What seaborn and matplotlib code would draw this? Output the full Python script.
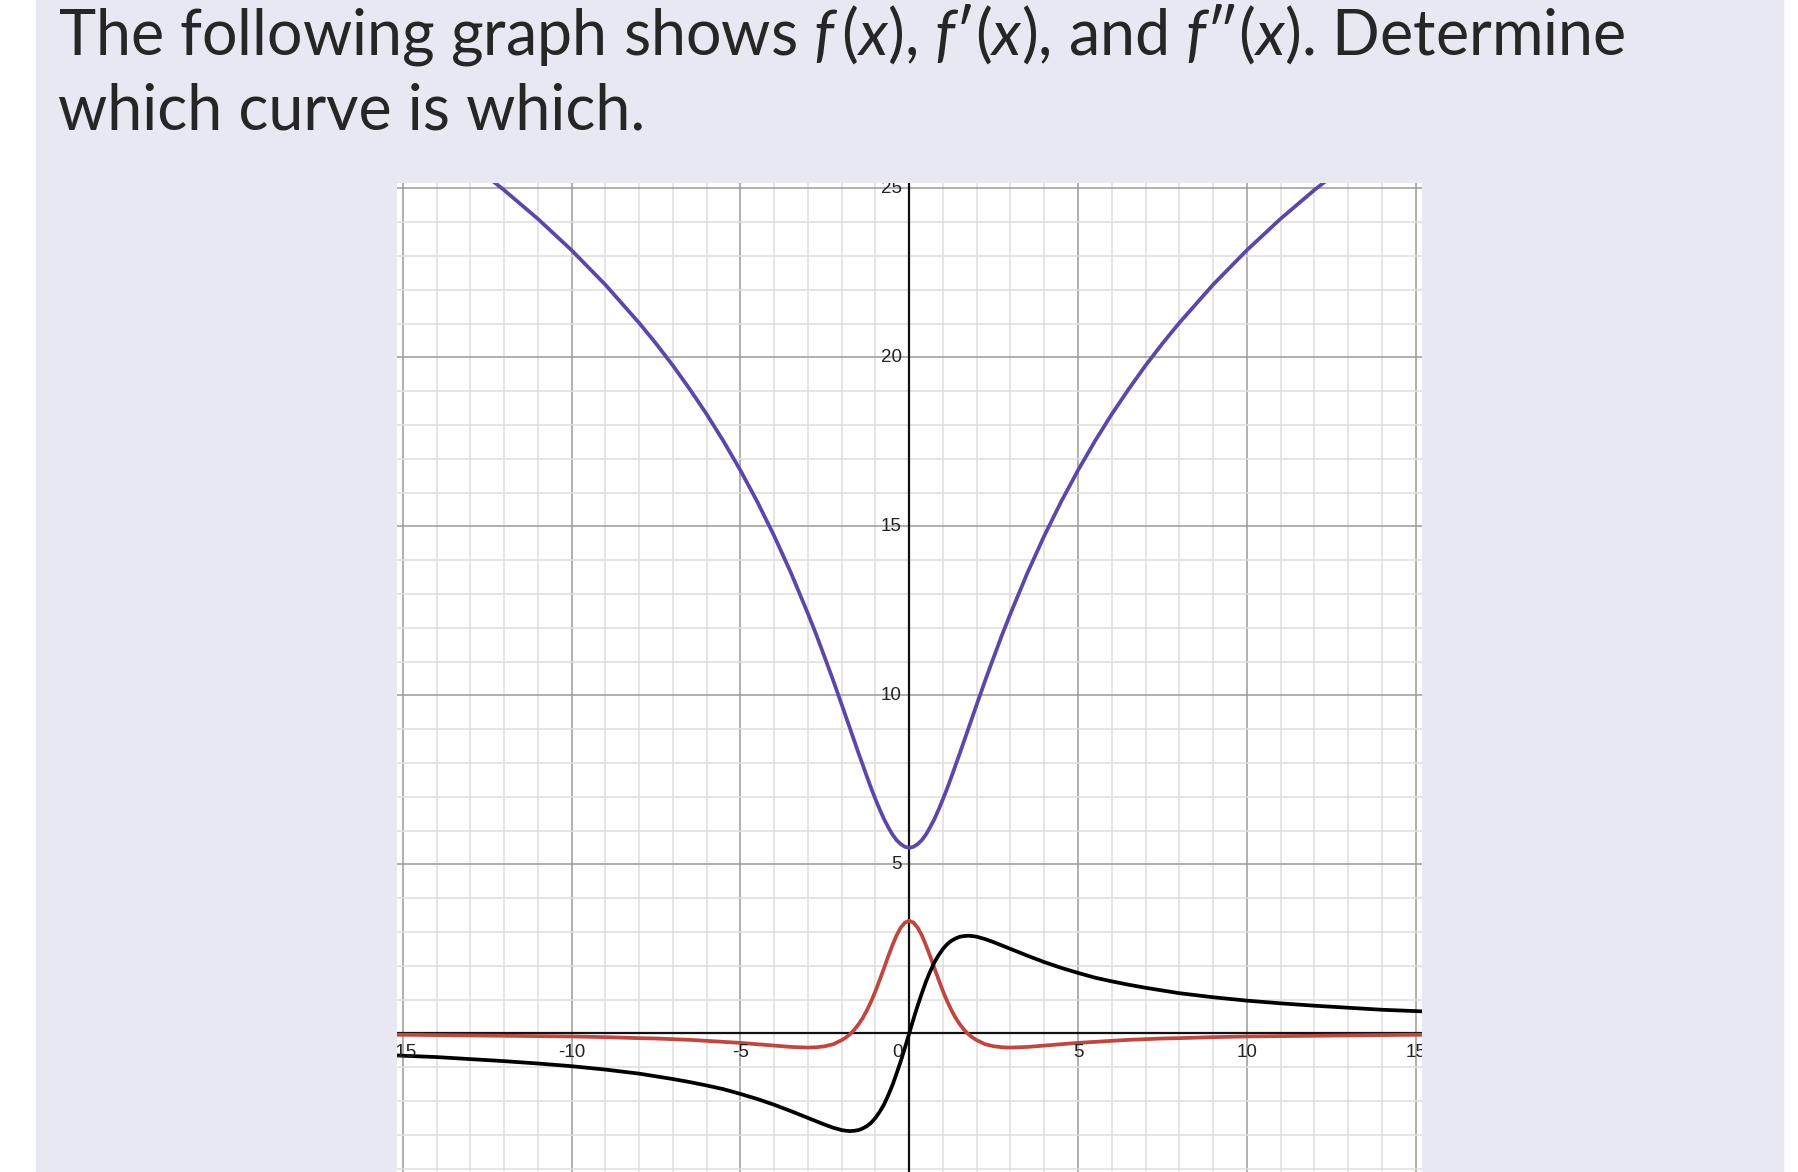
import numpy as np
import pandas as pd
import seaborn as sns
import matplotlib.pyplot as plt
from matplotlib.patches import Rectangle

# Curve values (denser near the origin where they bend)
x_vals = [-15.5, -15, -14, -13, -12, -11, -10, -9, -8, -7.5, -7, -6.5, -6, -5.5, -5, -4.5, -4,
          -3.5, -3, -2.75, -2.5, -2.25, -2, -1.875, -1.75, -1.625, -1.5, -1.375, -1.25, -1.125,
          -1, -0.875, -0.75, -0.625, -0.5, -0.375, -0.25, -0.125,
          0,
          0.125, 0.25, 0.375, 0.5, 0.625, 0.75, 0.875, 1, 1.125, 1.25, 1.375, 1.5, 1.625, 1.75,
          1.875, 2, 2.25, 2.5, 2.75, 3, 3.5, 4, 4.5, 5, 5.5, 6, 6.5, 7, 7.5, 8, 9, 10, 11, 12,
          13, 14, 15, 15.5]

f_vals = [27.47, 27.15, 26.47, 25.74, 24.95, 24.10, 23.17, 22.15, 21.02, 20.41, 19.76, 19.06,
          18.32, 17.52, 16.66, 15.73, 14.72, 13.62, 12.42, 11.79, 11.12, 10.44, 9.73, 9.37, 9.01,
          8.65, 8.29, 7.94, 7.59, 7.25, 6.93, 6.63, 6.35, 6.11, 5.89, 5.72, 5.60, 5.52,
          5.49,
          5.52, 5.60, 5.72, 5.89, 6.11, 6.35, 6.63, 6.93, 7.25, 7.59, 7.94, 8.29, 8.65, 9.01,
          9.37, 9.73, 10.44, 11.12, 11.79, 12.42, 13.62, 14.72, 15.73, 16.66, 17.52, 18.32,
          19.06, 19.76, 20.41, 21.02, 22.15, 23.17, 24.10, 24.95, 25.74, 26.47, 27.15, 27.47]

fp_vals = [-0.64, -0.66, -0.70, -0.76, -0.82, -0.89, -0.97, -1.07, -1.19, -1.27, -1.35, -1.44,
           -1.54, -1.65, -1.79, -1.94, -2.11, -2.30, -2.50, -2.60, -2.70, -2.79, -2.86, -2.88,
           -2.89, -2.88, -2.86, -2.81, -2.74, -2.64, -2.50, -2.32, -2.11, -1.84, -1.54, -1.19,
           -0.82, -0.42,
           0.0,
           0.42, 0.82, 1.19, 1.54, 1.84, 2.11, 2.32, 2.50, 2.64, 2.74, 2.81, 2.86, 2.88, 2.89,
           2.88, 2.86, 2.79, 2.70, 2.60, 2.50, 2.30, 2.11, 1.94, 1.79, 1.65, 1.54, 1.44, 1.35,
           1.27, 1.19, 1.07, 0.97, 0.89, 0.82, 0.76, 0.70, 0.66, 0.64]

fpp_vals = [-0.04, -0.04, -0.05, -0.06, -0.07, -0.08, -0.09, -0.11, -0.14, -0.15, -0.17, -0.19,
            -0.22, -0.25, -0.28, -0.32, -0.36, -0.40, -0.42, -0.41, -0.38, -0.32, -0.20, -0.12,
            -0.02, 0.11, 0.27, 0.46, 0.69, 0.95, 1.25, 1.58, 1.92, 2.27, 2.60, 2.90, 3.13, 3.28,
            3.33,
            3.28, 3.13, 2.90, 2.60, 2.27, 1.92, 1.58, 1.25, 0.95, 0.69, 0.46, 0.27, 0.11, -0.02,
            -0.12, -0.20, -0.32, -0.38, -0.41, -0.42, -0.40, -0.36, -0.32, -0.28, -0.25, -0.22,
            -0.19, -0.17, -0.15, -0.14, -0.11, -0.09, -0.08, -0.07, -0.06, -0.05, -0.04, -0.04]

x_labels = [-15, -10, -5, 0, 5, 10, 15]
y_labels = [5, 10, 15, 20, 25]

title_1 = "The following graph shows $f\\,(x)$, $f$\u2032$(x)$, and $f$\u2033$(x)$. Determine"
title_2 = "which curve is which."

df = pd.DataFrame({'x': x_vals, 'f': f_vals, 'fp': fp_vals, 'fpp': fpp_vals})

sns.set_style("white")
plt.rcParams['mathtext.fontset'] = 'custom'
plt.rcParams['mathtext.rm'] = 'Lato'
plt.rcParams['mathtext.it'] = 'Lato:italic'

W, H = 1798, 1172
fig = plt.figure(figsize=(W / 100, H / 100), dpi=100)
fig.patches.append(Rectangle((36 / W, 0), (1783 - 36) / W, 1, transform=fig.transFigure,
                             color='#e8e8f3', zorder=-10))

ax = fig.add_axes([396.7 / W, 0, 1025 / W, 988.7 / H])
ax.set_zorder(1)
ax.set_facecolor('white')
ax.set_xlim(-15.18, 15.18)
ax.set_ylim(-4.10, 25.15)

# grid: light every unit, darker every 5
ax.set_xticks(range(-15, 16, 5))
ax.set_yticks(range(0, 26, 5))
ax.set_xticks(range(-15, 16), minor=True)
ax.set_yticks(range(-4, 26), minor=True)
ax.grid(which='minor', color='#dedede', lw=1.1)
ax.grid(which='major', color='#9a9a9a', lw=1.1)
ax.tick_params(which='both', length=0, labelbottom=False, labelleft=False)
for s in ax.spines.values():
    s.set_visible(False)
ax.axhline(0, color='#111111', lw=1.6, zorder=2)
ax.axvline(0, color='#111111', lw=1.6, zorder=2)

sns.lineplot(data=df, x='x', y='f', color='#5c46a8', lw=2.7, estimator=None, ax=ax, zorder=3)
sns.lineplot(data=df, x='x', y='fpp', color='#c0473f', lw=2.7, estimator=None, ax=ax, zorder=3)
sns.lineplot(data=df, x='x', y='fp', color='black', lw=2.7, estimator=None, ax=ax, zorder=3)
ax.set_xlabel('')
ax.set_ylabel('')

# axis numbers sit next to the axes lines
for v in x_labels:
    if v == 0:
        ax.annotate('0', (0, 0), xytext=(-6.5, -10.7), textcoords='offset pixels',
                    ha='right', va='top', fontsize=13.5, family='Liberation Sans',
                    color='#222222', clip_on=True, zorder=4)
    else:
        ax.annotate(str(v), (v, 0), xytext=(0, -10.7), textcoords='offset pixels',
                    ha='center', va='top', fontsize=13.5, family='Liberation Sans',
                    color='#222222', clip_on=True, zorder=4)
for v in y_labels:
    ax.annotate(str(v), (0, v), xytext=(-7.5, 0), textcoords='offset pixels',
                ha='right', va='center', fontsize=13.5, family='Liberation Sans',
                color='#222222', clip_on=True, zorder=4)

# question text, sized so the first line spans the same width as in the slide
title_fonts = ['Lato', 'DejaVu Sans']
t1 = fig.text(58 / W, 1 - 54 / H, title_1, fontsize=40, family=title_fonts, va='baseline')
t2 = fig.text(58 / W, 1 - 130 / H, title_2, fontsize=40, family=title_fonts, va='baseline')
fig.canvas.draw()
size = 40 * 1568 / t1.get_window_extent().width
t1.set_fontsize(size)
t2.set_fontsize(size)

fig.savefig('out.png', dpi=100)
